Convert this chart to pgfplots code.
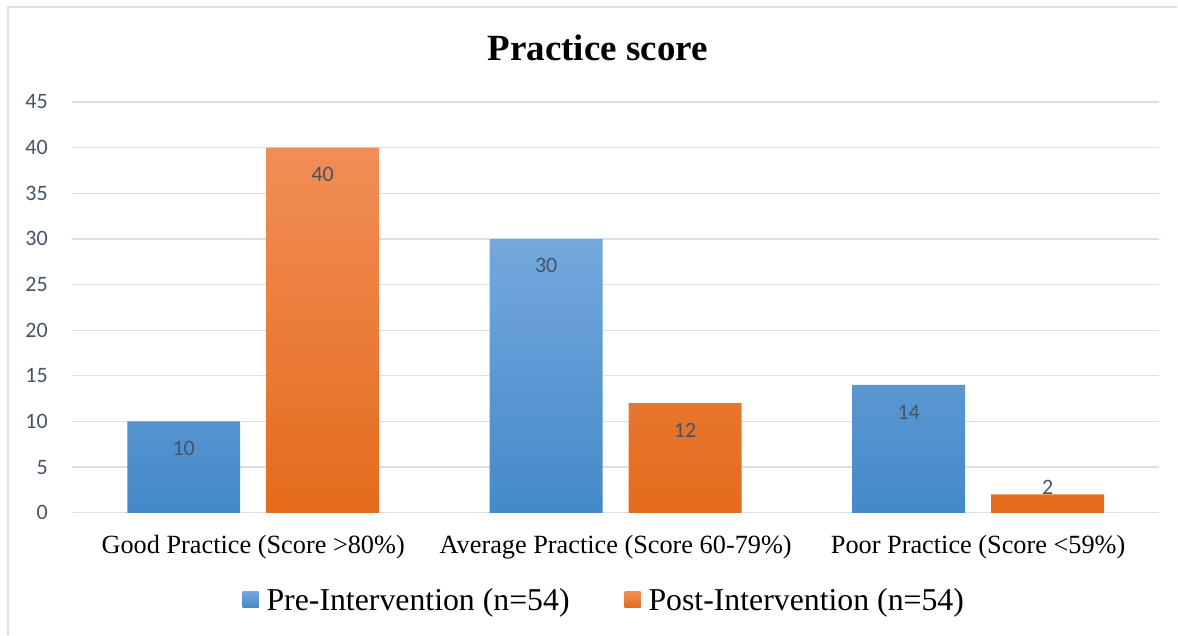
\documentclass[border=0pt]{standalone}
\usepackage{fontspec}
\setmainfont{Liberation Serif}
\newfontfamily\calibri{Carlito}
\usepackage{pgfplots}
\pgfplotsset{compat=1.18}
\usepackage{pgfplotstable}
\definecolor{gridc}{RGB}{219,223,229}
\definecolor{tickc}{RGB}{70,84,104}
\definecolor{bluetop}{RGB}{116,168,221}
\definecolor{bluemid}{RGB}{90,155,213}
\definecolor{bluebot}{RGB}{68,137,200}
\definecolor{orgtop}{RGB}{241,142,86}
\definecolor{orgmid}{RGB}{242,128,52}
\definecolor{orgbot}{RGB}{228,107,28}

\pgfplotstableread{
x y off
0 10 -27
1 30 -27
2 14 -27
}\pre
\pgfplotstableread{
x y off
0 40 -27
1 12 -27
2 2 7
}\post

\begin{document}
\begin{tikzpicture}[x=1pt,y=1pt]
\path (0,0) rectangle (1178,-635);
\draw[gridc, line width=1.2pt] (8,-635) -- (8,-7) -- (1178,-7);
\begin{axis}[
  at={(72pt,-513pt)}, anchor=south west,
  scale only axis, width=1088pt, height=411pt,
  ybar=26pt, bar width=113pt,
  xmin=-0.5, xmax=2.5, ymin=0, ymax=45,
  xtick={0,1,2},
  xticklabels={Good Practice (Score >80\%), Average Practice (Score 60-79\%), Poor Practice (Score <59\%)},
  ytick={0,5,...,45},
  ymajorgrids, grid style={gridc, line width=1.3pt},
  axis line style={draw=none},
  tick style={draw=none},
  /pgf/number format/assume math mode=true,
  yticklabel style={font=\calibri\fontsize{22}{22}\selectfont, text=tickc, anchor=east, inner sep=0pt, xshift=-24pt},
  xticklabel style={font=\fontsize{26.3}{26.3}\selectfont, anchor=base, inner sep=0pt, yshift=-37pt},
  title={Practice score},
  title style={font=\bfseries\fontsize{37}{37}\selectfont, at={(0.4835,1)}, anchor=base, yshift=35pt, inner sep=0pt},
  nodes near coords,
  visualization depends on={\thisrow{off} \as \off},
  every node near coord/.append style={font=\calibri\fontsize{22}{22}\selectfont, text=tickc, anchor=center, yshift=\off},
  legend columns=2,
  legend style={draw=none, fill=none, font=\fontsize{31.8}{31.8}\selectfont, at={(0.4895,-0.214)}, anchor=center, inner sep=0pt,
    /tikz/every even column/.append style={column sep=53pt}},
  legend image code/.code={\path[#1, draw=none] (0pt,-7pt) rectangle (16pt,9pt); \path (22pt,0pt);},
]
\addplot[draw=none, top color=bluetop, middle color=bluemid, bottom color=bluebot] table[x=x,y=y] {\pre};
\addplot[draw=none, top color=orgtop, middle color=orgmid, bottom color=orgbot] table[x=x,y=y] {\post};
\legend{Pre-Intervention (n=54), Post-Intervention (n=54)}
\end{axis}
\end{tikzpicture}
\end{document}
